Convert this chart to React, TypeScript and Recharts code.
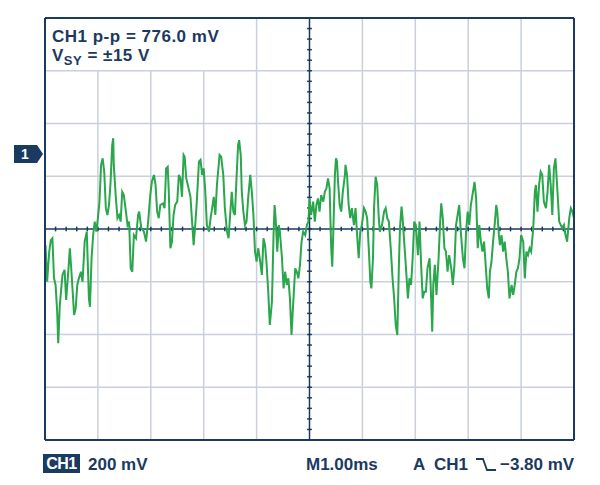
import React from 'react'
import { LineChart, Line, XAxis, YAxis, ReferenceLine, ReferenceDot } from 'recharts'

// scope trace, 1 ms/div horizontally, 200 mV/div vertically
const timeMs = [
  0.01, 0.04, 0.08, 0.11, 0.14, 0.17, 0.20, 0.23, 0.25, 0.28,
  0.33, 0.37, 0.40, 0.44, 0.47, 0.50, 0.55, 0.58, 0.61, 0.64,
  0.68, 0.71, 0.75, 0.79, 0.83, 0.85, 0.88, 0.91, 0.94, 0.97,
  1.00, 1.03, 1.06, 1.09, 1.12, 1.15, 1.18, 1.21, 1.24, 1.27,
  1.29, 1.30, 1.34, 1.37, 1.40, 1.43, 1.46, 1.49, 1.53, 1.56,
  1.59, 1.62, 1.65, 1.68, 1.72, 1.76, 1.78, 1.82, 1.87, 1.91,
  1.95, 1.99, 2.02, 2.06, 2.09, 2.12, 2.15, 2.18, 2.23, 2.26,
  2.29, 2.32, 2.34, 2.37, 2.40, 2.43, 2.46, 2.50, 2.53, 2.56,
  2.59, 2.62, 2.64, 2.67, 2.70, 2.75, 2.78, 2.81, 2.84, 2.87,
  2.91, 2.94, 2.97, 3.00, 3.03, 3.06, 3.10, 3.13, 3.16, 3.19,
  3.22, 3.25, 3.30, 3.33, 3.37, 3.40, 3.44, 3.47, 3.50, 3.53,
  3.56, 3.59, 3.62, 3.65, 3.67, 3.70, 3.72, 3.75, 3.78, 3.81,
  3.84, 3.88, 3.91, 3.94, 3.97, 4.00, 4.03, 4.06, 4.10, 4.13,
  4.16, 4.19, 4.22, 4.25, 4.29, 4.32, 4.34, 4.36, 4.39, 4.42,
  4.44, 4.48, 4.51, 4.54, 4.57, 4.60, 4.63, 4.66, 4.69, 4.73,
  4.76, 4.79, 4.82, 4.85, 4.88, 4.92, 4.95, 4.98, 5.00, 5.03,
  5.07, 5.10, 5.13, 5.16, 5.19, 5.22, 5.26, 5.29, 5.32, 5.35,
  5.38, 5.41, 5.43, 5.45, 5.48, 5.50, 5.52, 5.54, 5.57, 5.60,
  5.63, 5.67, 5.68, 5.71, 5.74, 5.77, 5.80, 5.84, 5.87, 5.90,
  5.93, 5.96, 5.99, 6.03, 6.06, 6.09, 6.12, 6.15, 6.17, 6.20,
  6.22, 6.25, 6.28, 6.31, 6.33, 6.37, 6.41, 6.44, 6.47, 6.50,
  6.54, 6.57, 6.60, 6.63, 6.66, 6.69, 6.71, 6.74, 6.76, 6.79,
  6.82, 6.86, 6.89, 6.92, 6.95, 6.98, 7.01, 7.05, 7.08, 7.11,
  7.14, 7.17, 7.20, 7.23, 7.27, 7.30, 7.32, 7.34, 7.37, 7.40,
  7.44, 7.47, 7.49, 7.52, 7.55, 7.58, 7.61, 7.64, 7.68, 7.71,
  7.74, 7.77, 7.80, 7.83, 7.86, 7.90, 7.93, 7.96, 7.99, 8.02,
  8.05, 8.09, 8.12, 8.15, 8.18, 8.21, 8.24, 8.27, 8.30, 8.33,
  8.36, 8.39, 8.41, 8.44, 8.47, 8.50, 8.53, 8.55, 8.58, 8.60,
  8.63, 8.66, 8.69, 8.72, 8.75, 8.78, 8.82, 8.85, 8.88, 8.91,
  8.94, 8.97, 9.00, 9.04, 9.07, 9.10, 9.13, 9.16, 9.19, 9.23,
  9.26, 9.28, 9.31, 9.34, 9.37, 9.40, 9.43, 9.47, 9.50, 9.53,
  9.56, 9.59, 9.62, 9.65, 9.68, 9.72, 9.75, 9.78, 9.81, 9.84,
  9.87, 9.91, 9.94, 9.97, 10.00,
]

const ch1mV = [
  -61, -200, -86, -42, -35, -186, -212, -313, -433, -288,
  -174, -155, -269, -162, -73, -162, -326, -301, -212, -187,
  -162, -200, -48, -10, -263, -295, -111, -23, 28, -10,
  41, 104, 243, 268, 217, 79, 53, 91, 179, 318,
  344, 243, 116, 41, 53, 28, 141, 129, 66, 15,
  28, -149, -162, -23, -35, 53, 66, 3, -10, -48,
  28, 129, 179, 205, 167, 66, 41, 91, 97, 79,
  230, 236, 141, -73, -48, 53, 91, 104, 205, 192,
  122, 281, 274, 192, 167, 122, 28, -61, 15, 104,
  255, 262, 205, 230, 141, 15, -10, 41, 79, 122,
  53, 167, 281, 274, 205, 79, -10, -35, 53, 141,
  66, 53, 192, 318, 337, 281, 141, 66, 15, 28,
  116, 205, 141, 53, -86, -124, -73, -111, -174, -35,
  -61, -136, -238, -364, -276, -23, 91, 41, -86, 15,
  -10, -111, -225, -162, -212, -187, -263, -402, -288, -149,
  -162, -187, -136, -48, -10, -23, 15, 28, 116, 53,
  104, 28, 91, 116, 66, 129, 104, 141, 154, 192,
  154, -73, -143, -10, 205, 268, 255, 179, 91, 66,
  141, 205, 243, 205, 91, 41, 79, 15, 79, -23,
  -111, -10, 15, 79, 66, 41, -73, -200, -225, -111,
  79, 198, 167, 41, -10, 15, 66, 79, 41, 28,
  -86, -187, -263, -364, -402, -136, 3, 85, 41, -48,
  -136, -263, -187, -212, -111, 28, 15, -99, 28, -136,
  -263, -238, -238, -149, -111, -263, -389, -212, -136, -250,
  -111, 28, 97, 41, -73, -86, -162, -99, -149, -212,
  -136, 15, 53, 91, -10, -111, -149, -10, 66, 15,
  91, 141, 179, 116, -73, 15, -48, -86, -48, -136,
  -225, -263, -162, -124, -48, 15, 91, 66, -23, -61,
  -23, -86, -48, -111, -162, -263, -212, -250, -212, -162,
  -149, -111, -23, -48, -187, -86, -99, -73, -86, 3,
  141, 167, 66, 167, 217, 205, 104, 79, 141, 243,
  167, 53, 230, 268, 167, 28, 15, 3, 15, -23,
  -48, 41, 79, 66, 41,
]

// graticule
const gridMs = [1, 2, 3, 4, 6, 7, 8, 9]
const gridMv = [-600, -400, -200, 200, 400, 600]
const minorMs = Array.from({ length: 51 }, (_, i) => i * 0.2)
const minorMv = Array.from({ length: 41 }, (_, i) => -800 + i * 40)
const markerMv = 284
// the readout box in the top-left hides the grid above +600 mV up to 4 ms
const readoutEndMs = 4
const readoutBottomMv = 600

const NAVY = '#1b3a60'
const GRID = '#c9d0dc'
const TRACE = '#2aa64c'
const FONT = '"Liberation Sans", Arial, sans-serif'

const data = timeMs.map((t, i) => ({ t, v: ch1mV[i] }))

const ChannelMarker = (props: any) => {
  const { cx, cy } = props
  return (
    <g>
      <path
        d={`M${cx - 31},${cy - 9} L${cx - 8},${cy - 9} L${cx - 2},${cy} L${cx - 8},${cy + 9} L${cx - 31},${cy + 9} Z`}
        fill={NAVY}
      />
      <text x={cx - 20} y={cy + 5} fill="#fff" fontSize={14} fontWeight="bold" textAnchor="middle" fontFamily={FONT}>1</text>
    </g>
  )
}

const axisProps = {
  type: 'number' as const,
  tick: false,
  tickSize: 6,
  interval: 0,
  mirror: true,
  allowDataOverflow: true,
  axisLine: { stroke: NAVY, strokeWidth: 2 },
  tickLine: { stroke: NAVY, strokeWidth: 1.5 },
}

const txt: React.CSSProperties = {
  position: 'absolute',
  fontFamily: FONT,
  fontWeight: 'bold',
  fontSize: 17,
  lineHeight: '17px',
  color: NAVY,
  whiteSpace: 'nowrap',
}

export default function App() {
  return (
    <div style={{ position: 'absolute', left: 0, top: 0, width: 600, height: 485, background: '#fff' }}>
      <LineChart width={600} height={485} data={data} margin={{ top: 18, right: 26, bottom: 45, left: 45 }}>
        {gridMs.map(t =>
          t < readoutEndMs ? (
            <ReferenceLine key={'gx' + t} segment={[{ x: t, y: -800 }, { x: t, y: readoutBottomMv }]} stroke={GRID} strokeWidth={1.5} />
          ) : (
            <ReferenceLine key={'gx' + t} x={t} stroke={GRID} strokeWidth={1.5} />
          )
        )}
        {gridMv.map(v => (
          <ReferenceLine key={'gy' + v} y={v} stroke={GRID} strokeWidth={1.5} />
        ))}
        <ReferenceLine x={5} stroke={NAVY} strokeWidth={1.5} />
        <ReferenceLine y={0} stroke={NAVY} strokeWidth={1.5} />
        {minorMs.slice(1, -1).map(t => (
          <ReferenceLine key={'cx' + t} segment={[{ x: t, y: -9 }, { x: t, y: 9 }]} stroke={NAVY} strokeWidth={1.5} />
        ))}
        {minorMv.slice(1, -1).map(v => (
          <ReferenceLine key={'cy' + v} segment={[{ x: 4.955, y: v }, { x: 5.045, y: v }]} stroke={NAVY} strokeWidth={1.5} />
        ))}
        <XAxis {...axisProps} dataKey="t" domain={[0, 10]} ticks={minorMs} />
        <XAxis {...axisProps} xAxisId="top" orientation="top" domain={[0, 10]} ticks={minorMs} />
        <YAxis {...axisProps} domain={[-800, 800]} ticks={minorMv} />
        <YAxis {...axisProps} yAxisId="right" orientation="right" domain={[-800, 800]} ticks={minorMv} />
        <Line
          type="linear"
          dataKey="v"
          stroke={TRACE}
          strokeWidth={2}
          dot={false}
          isAnimationActive={false}
        />
        <ReferenceDot x={0} y={markerMv} ifOverflow="visible" shape={ChannelMarker} />
      </LineChart>

      <div style={{ ...txt, left: 52, top: 28, letterSpacing: 0.5 }}>CH1 p-p = 776.0 mV</div>
      <div style={{ ...txt, left: 52, top: 47, letterSpacing: 0.5 }}>
        V<sub style={{ fontSize: 13, verticalAlign: -4 }}>SY</sub> = ±15 V
      </div>

      <div
        style={{
          ...txt, left: 43, top: 454, width: 37, height: 19, lineHeight: '19px',
          background: NAVY, color: '#fff', textAlign: 'center', fontSize: 16, letterSpacing: -0.5,
        }}
      >
        CH1
      </div>
      <div style={{ ...txt, left: 88, top: 456 }}>200 mV</div>
      <div style={{ ...txt, left: 306, top: 456 }}>M1.00ms</div>
      <div style={{ ...txt, left: 413, top: 456 }}>A</div>
      <div style={{ ...txt, left: 434, top: 456 }}>CH1</div>
      <svg style={{ position: 'absolute', left: 474, top: 457 }} width={24} height={15}>
        <polyline points="2,2 9,2 13,13 22,13" fill="none" stroke={NAVY} strokeWidth={1.8} />
      </svg>
      <div style={{ ...txt, left: 500, top: 456 }}>−3.80 mV</div>
    </div>
  )
}
